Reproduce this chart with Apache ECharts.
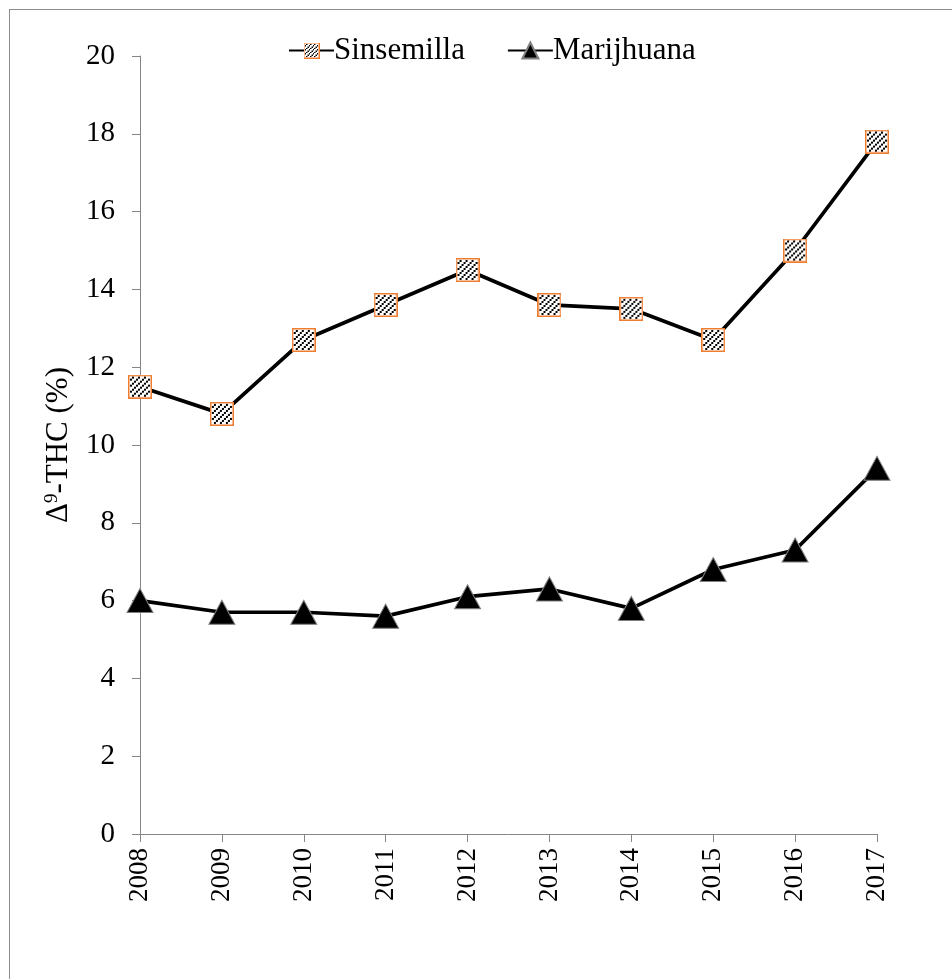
<!DOCTYPE html>
<html>
<head>
<meta charset="utf-8">
<script src="https://cdn.jsdelivr.net/npm/echarts@6/dist/echarts.min.js"></script>
<style>
  html, body { margin: 0; padding: 0; background: #fff; }
  #frame { position: absolute; left: 9px; top: 9px; width: 960px; height: 990px;
           border-left: 1px solid #8c8c8c; border-top: 1px solid #8c8c8c; }
  #chart { position: absolute; left: 0; top: 0; width: 952px; height: 979px; }
</style>
</head>
<body>
<div id="frame"></div>
<div id="chart"></div>
<script>
const years = ['2008', '2009', '2010', '2011', '2012', '2013', '2014', '2015', '2016', '2017']
const sinsemilla = [11.5, 10.8, 12.7, 13.6, 14.5, 13.6, 13.5, 12.7, 15.0, 17.8]
const marijhuana = [6.0, 5.7, 5.7, 5.6, 6.1, 6.3, 5.8, 6.8, 7.3, 9.4]
const yTicks = [0, 2, 4, 6, 8, 10, 12, 14, 16, 18, 20]

// hatched square with orange edge, drawn once and used as the symbol image
function hatchSquare(size) {
  const c = document.createElement('canvas')
  c.width = size
  c.height = size
  const ctx = c.getContext('2d')
  ctx.fillStyle = '#fff'
  ctx.fillRect(0, 0, size, size)
  ctx.fillStyle = '#000'
  for (let y = 1; y < size - 2; y++) {
    for (let x = 1; x < size - 2; x++) {
      if ((x + y) % 6 === 0 && y % 2 === 0) ctx.fillRect(x, y, 2, 2)
    }
  }
  ctx.strokeStyle = '#ED7D31'
  ctx.lineWidth = 1.5
  ctx.strokeRect(0.75, 0.75, size - 1.5, size - 1.5)
  return 'image://' + c.toDataURL()
}

const chart = echarts.init(document.getElementById('chart'))
const font = '"Liberation Serif", "Times New Roman", serif'
const axisGray = '#868686'

chart.setOption({
  animation: false,
  textStyle: { fontFamily: font, color: '#000' },
  grid: { left: 140, top: 56, right: 75, bottom: 145 },
  legend: {
    top: 30,
    left: 283,
    itemWidth: 45,
    itemHeight: 20,
    itemGap: 42,
    textStyle: { fontFamily: font, fontSize: 31, color: '#000', padding: [0, 0, 0, -5] },
    data: ['Sinsemilla', 'Marijhuana']
  },
  xAxis: {
    type: 'category',
    data: years,
    boundaryGap: false,
    axisLine: { lineStyle: { color: axisGray, width: 1 } },
    axisTick: { alignWithLabel: true, length: 8, lineStyle: { color: axisGray } },
    axisLabel: { rotate: 90, fontSize: 27, margin: 14, color: '#000', fontFamily: font }
  },
  yAxis: {
    type: 'value',
    min: yTicks[0],
    max: yTicks[yTicks.length - 1],
    interval: 2,
    name: 'Δ{sup|9}-THC (%)',
    nameLocation: 'middle',
    nameGap: 66,
    nameRotate: 90,
    nameTextStyle: {
      fontFamily: font,
      fontSize: 31,
      color: '#000',
      rich: {
        sup: { fontSize: 19, fontFamily: font, color: '#000', verticalAlign: 'top', padding: [0, 0, 12, 0] }
      }
    },
    axisLine: { show: true, lineStyle: { color: axisGray, width: 1 } },
    axisTick: { show: true, length: 8, lineStyle: { color: axisGray } },
    splitLine: { show: false },
    axisLabel: { fontSize: 29, margin: 25, color: '#000', fontFamily: font }
  },
  series: [
    {
      name: 'Sinsemilla',
      type: 'line',
      data: sinsemilla,
      symbol: hatchSquare(24),
      symbolSize: 24,
      lineStyle: { color: '#000', width: 3.7 },
      itemStyle: { color: '#000' },
      z: 3
    },
    {
      name: 'Marijhuana',
      type: 'line',
      data: marijhuana,
      symbol: 'triangle',
      symbolSize: [26, 24],
      lineStyle: { color: '#000', width: 3.7 },
      itemStyle: { color: '#000', borderColor: '#7f7f7f', borderWidth: 1 },
      z: 2
    }
  ]
})
</script>
</body>
</html>
